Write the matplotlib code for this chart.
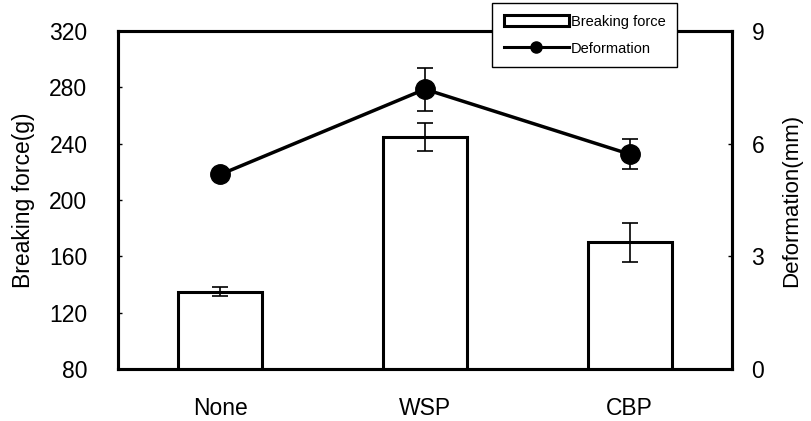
import matplotlib
matplotlib.use("Agg")
import matplotlib.pyplot as plt
from matplotlib.patches import Patch
from matplotlib.lines import Line2D
import numpy as np

plt.rcParams['font.family'] = ['Liberation Sans', 'DejaVu Sans']

groups = ['None', 'WSP', 'CBP']
force = [135, 245, 170]
force_err = [3, 10, 14]
deform = [5.18, 7.45, 5.72]
deform_err = [0, 0.57, 0.4]

fig = plt.figure(figsize=(8.12, 4.21), dpi=100)
ax = fig.add_axes([118 / 812, 1 - 369 / 421, 614 / 812, 338 / 421])
x = np.arange(len(groups))

ax.bar(x, force, width=0.41, facecolor='white', edgecolor='black', linewidth=2.2, zorder=2)
ax.errorbar(x, force, yerr=force_err, fmt='none', ecolor='black', elinewidth=1.2,
            capsize=6, capthick=1.2, zorder=3)
ax.set_xlim(-0.5, 2.5)
ax.set_ylim(80, 320)
ax.set_yticks(np.arange(80, 321, 40))
ax.set_xticks(x)
ax.set_xticklabels(groups)
ax.set_ylabel('Breaking force(g)', fontsize=16.5, labelpad=10)
ax.tick_params(axis='y', direction='in', length=3, width=1, labelsize=16.5, pad=22)
ax.tick_params(axis='x', length=0, labelsize=16.5, pad=20)
for s in ax.spines.values():
    s.set_linewidth(2.2)

ax2 = ax.twinx()
ax2.errorbar(x, deform, yerr=deform_err, fmt='-o', color='black', linewidth=2.5,
             markersize=14, elinewidth=1.2, capsize=6, capthick=1.2, zorder=4)
ax2.set_ylim(0, 9)
ax2.set_yticks([0, 3, 6, 9])
ax2.set_ylabel('Deformation(mm)', fontsize=16, labelpad=12)
ax2.tick_params(axis='y', direction='in', length=3, width=1, labelsize=16.5, pad=14)
for s in ax2.spines.values():
    s.set_linewidth(2.2)

handles = [Patch(facecolor='white', edgecolor='black', linewidth=2.2),
           Line2D([], [], color='black', linewidth=2.2, marker='o', markersize=8)]
leg = ax2.legend(handles, ['Breaking force', 'Deformation'], loc='upper left',
                 bbox_to_anchor=(492 / 812, 1 - 3 / 421), bbox_transform=fig.transFigure,
                 fontsize=10.5, frameon=True, fancybox=False, edgecolor='black',
                 framealpha=1, handlelength=4.5, handleheight=0.8,
                 borderpad=0.8, labelspacing=0.9, handletextpad=0.1, borderaxespad=0)
leg.get_frame().set_linewidth(1)

fig.savefig('out.png', dpi=100)
